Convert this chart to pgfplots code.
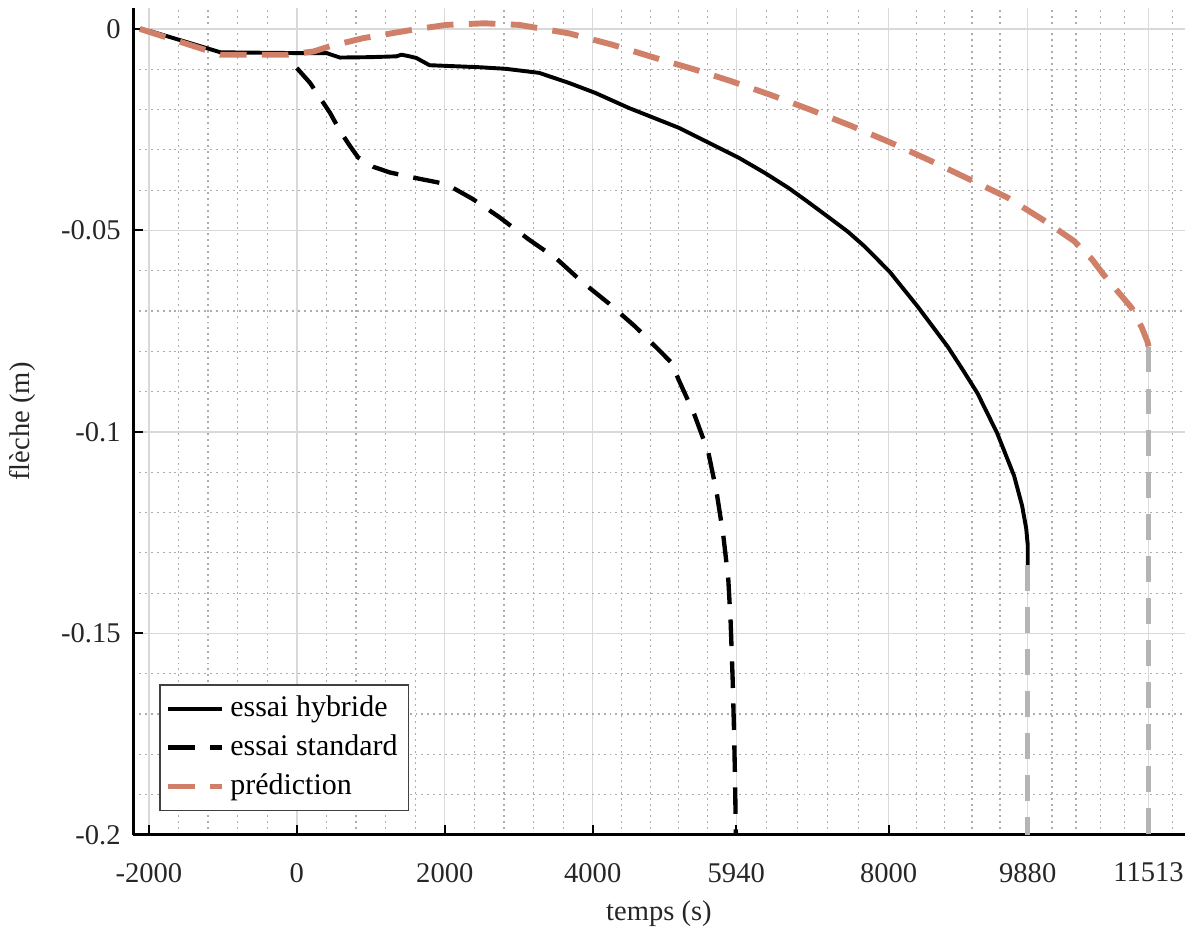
\documentclass[border=0pt]{standalone}
\usepackage{fontspec}
\setmainfont{Liberation Serif}
\usepackage{pgfplots}
\pgfplotsset{compat=1.18}
\definecolor{pred}{RGB}{208,128,104}
\definecolor{vgray}{RGB}{180,180,180}
\begin{document}
\begin{tikzpicture}
\begin{axis}[
  scale only axis,
  width=375.5pt, height=295.4pt,
  xmin=-2210, xmax=12000,
  ymin=-0.2, ymax=0.0052,
  axis x line*=bottom, axis y line*=left,
  axis line style={line width=1.1pt, black},
  xtick={-2000,0,2000,4000,5940,8000,9880,11513},
  xticklabels={-2000,0,2000,4000,5940,8000,9880,11513},
  minor xtick={-1600,-1200,-800,-400,400,800,1200,1600,2400,2800,3200,3600,
    4388,4776,5164,5552,6352,6764,7176,7588,8376,8752,9128,9504,
    10206.6,10533.2,10859.8,11186.4,11839.6},
  ytick={-0.2,-0.15,-0.1,-0.05,0},
  yticklabels={-0.2,-0.15,-0.1,-0.05,0},
  minor ytick={-0.19,-0.18,-0.17,-0.16,-0.14,-0.13,-0.12,-0.11,-0.09,-0.08,-0.07,-0.06,-0.04,-0.03,-0.02,-0.01},
  scaled ticks=false,
  /pgf/number format/assume math mode=true,
  grid=both,
  major grid style={line width=0.5pt, black!15},
  minor grid style={line width=0.45pt, black!32, dash pattern=on 0.7pt off 1.4pt},
  major tick length=3.6pt, minor tick length=0pt,
  tick style={black, line width=0.7pt},
  tick align=inside,
  ticklabel style={font=\fontsize{10.2}{12}\selectfont, text=black!85},
  xticklabel style={yshift=-6.5pt},
  yticklabel style={xshift=-1pt},
  xlabel={temps (s)}, ylabel={flèche (m)},
  label style={font=\fontsize{10.2}{12}\selectfont, text=black!85},
  xlabel style={yshift=0.4pt},
  ylabel style={yshift=2.3pt},
  legend style={at={(0.0246,0.029)}, anchor=south west, draw=black!75, line width=0.5pt,
    font=\fontsize{10.7}{12.5}\selectfont, inner sep=2pt, row sep=1pt},
  legend cell align=left,
  legend image code/.code={\draw[#1] (0cm,0cm) -- (0.67cm,0cm);},
]
\addplot[black, line width=1.4pt, line join=round] coordinates {
(-2120,0) (-1973,-0.0006) (-1500,-0.0032) (-1033,-0.0058) (44,-0.006) (404,-0.006) (500,-0.0066) (583,-0.0071)
(1000,-0.0070) (1346,-0.0068) (1413,-0.0064) (1500,-0.0067) (1615,-0.0072) (1794,-0.009) (2467,-0.0095)
(2827,-0.0099) (3275,-0.0109) (3679,-0.0134) (4038,-0.0159) (4487,-0.0196) (5160,-0.0245) (5968,-0.0319)
(6333,-0.0358) (6650,-0.0395) (6900,-0.0428) (7150,-0.0462) (7448,-0.0503) (7677,-0.0540) (8016,-0.0603) (8393,-0.0689) (8797,-0.0788)
(8999,-0.0845) (9201,-0.0904) (9467,-0.1003) (9696,-0.1109) (9804,-0.1183) (9860,-0.124) (9880,-0.128) (9880,-0.1331)
};
\addlegendentry{essai hybride}
\addplot[black, line width=1.55pt, dash pattern=on 9.5pt off 5.5pt, line join=round] coordinates {
(0,-0.0097) (179,-0.0134) (448,-0.0208) (583,-0.0253) (717,-0.029) (829,-0.0319) (1031,-0.0342) (1256,-0.0356)
(1525,-0.0367) (2019,-0.0385) (2378,-0.0422) (2737,-0.0467) (3140,-0.0523) (3510,-0.057) (3858,-0.0628)
(4217,-0.0681) (4577,-0.0739) (4890,-0.0796) (5069,-0.0829) (5160,-0.087) (5370,-0.0955) (5563,-0.1051)
(5675,-0.115) (5765,-0.1257) (5832,-0.1364) (5864,-0.1471) (5891,-0.1611) (5909,-0.1734) (5923,-0.1857) (5935,-0.2)
};
\addlegendentry{essai standard}
\addplot[pred, line width=2.1pt, dash pattern=on 9.5pt off 5.5pt] coordinates {
(-2120,0) (-1033,-0.0064) (-135,-0.0064) (224,-0.0056) (448,-0.0043) (893,-0.0023) (1566,-0.0002) (2019,0.001)
(2535,0.0014) (3006,0.001) (3679,-0.0011) (4262,-0.0039) (4846,-0.0072) (5384,-0.0101) (5877,-0.013)
(6410,-0.0164) (6949,-0.0201) (7487,-0.024) (8026,-0.0282) (8565,-0.0327) (9090,-0.0373) (9601,-0.0418)
(10073,-0.0472) (10504,-0.0526) (10750,-0.0572) (10907,-0.061) (11100,-0.0652) (11284,-0.0692) (11420,-0.074) (11499,-0.0776) (11513,-0.0788)
};
\addlegendentry{prédiction}
\addplot[vgray, line width=1.8pt, dash pattern=on 9pt off 6pt, forget plot] coordinates {(9880,-0.1331) (9880,-0.2)};
\addplot[vgray, line width=1.8pt, dash pattern=on 9pt off 6pt, forget plot] coordinates {(11513,-0.0788) (11513,-0.2)};
\end{axis}
\path ([shift={(0pt,2.3pt)}]current bounding box.north west);
\end{tikzpicture}
\end{document}
